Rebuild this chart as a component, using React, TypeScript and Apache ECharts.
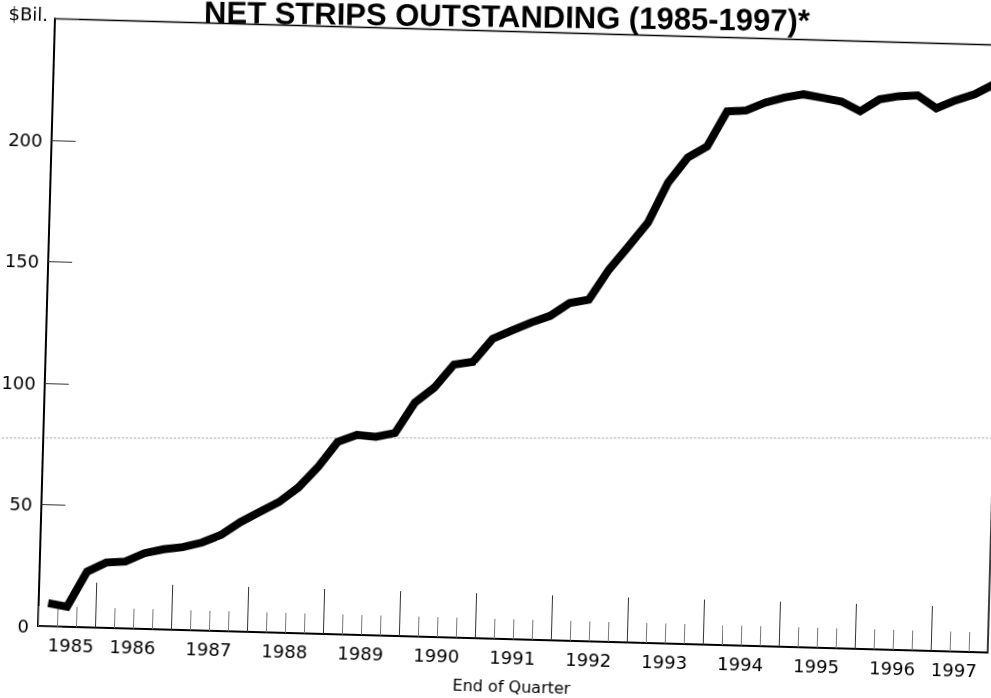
import React, { useEffect, useRef } from "react";
import * as echarts from "echarts";

// ---------- data ----------
const years = ["1985", "1986", "1987", "1988", "1989", "1990", "1991", "1992", "1993", "1994", "1995", "1996", "1997"];
// quarters shown: 1985 Q2 .. 1997 Q3
const firstQuarterOfYear = [2, 1, 1, 1, 1, 1, 1, 1, 1, 1, 1, 1, 1];
const lastQuarterOfYear = [4, 4, 4, 4, 4, 4, 4, 4, 4, 4, 4, 4, 3];
const categories: string[] = [];
years.forEach((y, i) => {
  for (let q = firstQuarterOfYear[i]; q <= lastQuarterOfYear[i]; q++) categories.push(y + " Q" + q);
});

// Net STRIPS outstanding, $ billions, end of quarter
const netStrips = [
  9.5, 8.3, 22.9, 26.9, 27.5, 31.2, 33.0, 34.1, 36.2, 39.6,
  45.1, 49.5, 53.8, 60.0, 68.6, 79.2, 82.3, 81.7, 83.5, 96.2,
  102.6, 112.3, 113.7, 123.4, 127.0, 130.5, 133.5, 139.0, 140.6, 153.0,
  162.9, 173.0, 189.7, 200.2, 205.0, 219.6, 220.2, 223.7, 226.0, 227.5,
  226.3, 225.0, 221.2, 226.3, 227.8, 228.4, 223.3, 226.8, 229.5, 233.8,
];

// year label positions, in quarters from the start of the axis
const yearLabelAt = [1.75, 5, 9, 13, 17, 21, 25, 29, 33, 37, 41, 45, 48.25];
const yTicks = { min: 0, max: 250, interval: 50 };

const titleText = "NET STRIPS OUTSTANDING (1985-1997)*";
const yUnit = "$Bil.";
const xName = "End of Quarter";

// ---------- layout (scan is tilted) ----------
const ANGLE_DEG = 1.6;
const TH = (ANGLE_DEG * Math.PI) / 180;
const DIV_LEFT = -40;
const DIV_TOP = -60;
const DIV_W = 1080;
const DIV_H = 760;
const ORIGIN_PAGE = [38, 626];
const ORIGIN_LOCAL = [ORIGIN_PAGE[0] - DIV_LEFT, ORIGIN_PAGE[1] - DIV_TOP];
const PLOT_W = 950;
const PLOT_H = 607.5;

function toLocal(px: number, py: number): [number, number] {
  const dx = px - ORIGIN_PAGE[0];
  const dy = py - ORIGIN_PAGE[1];
  const u = dx * Math.cos(TH) + dy * Math.sin(TH);
  const v = -dx * Math.sin(TH) + dy * Math.cos(TH);
  return [ORIGIN_LOCAL[0] + u, ORIGIN_LOCAL[1] + v];
}

const FONT = "'DejaVu Sans', sans-serif";

export default function App() {
  const ref = useRef<HTMLDivElement>(null);

  useEffect(() => {
    if (!ref.current) return;
    document.body.style.overflow = "hidden";
    const chart = echarts.init(ref.current, undefined, { renderer: "svg" });

    const labelMap: Record<string, string> = {};
    yearLabelAt.forEach((p, i) => {
      labelMap[p.toFixed(2)] = years[i];
    });

    const titlePos = toLocal(507, 16.5);
    const foldA = toLocal(-30, 438);
    const foldB = toLocal(1030, 438);

    chart.setOption({
      animation: false,
      backgroundColor: "#ffffff",
      grid: {
        left: ORIGIN_LOCAL[0],
        top: ORIGIN_LOCAL[1] - PLOT_H,
        right: DIV_W - ORIGIN_LOCAL[0] - PLOT_W,
        bottom: DIV_H - ORIGIN_LOCAL[1],
        show: true,
        borderColor: "#000",
        borderWidth: 1.5,
        backgroundColor: "transparent",
        containLabel: false,
        outerBoundsMode: "none",
      },
      xAxis: [
        {
          type: "category",
          position: "bottom",
          data: categories,
          boundaryGap: true,
          axisLine: { show: true, lineStyle: { color: "#000", width: 2 } },
          axisTick: { show: true, inside: true, length: 20, interval: 0, lineStyle: { color: "#777", width: 1 } },
          axisLabel: { show: false },
          splitLine: { show: false },
        },
        {
          type: "category",
          position: "bottom",
          data: categories,
          boundaryGap: true,
          axisLine: { show: false },
          axisTick: {
            show: true,
            inside: true,
            length: 45,
            interval: (index: number) => index % 4 === 3,
            lineStyle: { color: "#333", width: 1 },
          },
          axisLabel: { show: false },
          splitLine: { show: false },
        },
        {
          type: "value",
          position: "bottom",
          min: 0,
          max: categories.length,
          interval: 0.25,
          axisLine: { show: false },
          axisTick: { show: false },
          splitLine: { show: false },
          axisLabel: {
            show: true,
            margin: 9,
            fontSize: 18,
            fontFamily: FONT,
            color: "#000",
            formatter: (v: number) => labelMap[v.toFixed(2)] || "",
          },
          name: xName,
          nameLocation: "middle",
          nameGap: 39,
          nameTextStyle: { fontSize: 16, fontFamily: FONT, color: "#000" },
        },
      ],
      yAxis: {
        type: "value",
        min: yTicks.min,
        max: yTicks.max,
        interval: yTicks.interval,
        axisLine: { show: true, lineStyle: { color: "#000", width: 2 } },
        axisTick: { show: true, inside: true, length: 24, lineStyle: { color: "#333", width: 1 } },
        splitLine: { show: false },
        axisLabel: {
          margin: 9,
          fontSize: 18,
          fontFamily: FONT,
          color: "#000",
          formatter: (v: number) => (v === yTicks.max ? "" : String(v)),
        },
        name: yUnit,
        nameLocation: "end",
        nameGap: 4,
        nameTextStyle: {
          fontSize: 18,
          fontFamily: FONT,
          color: "#000",
          align: "right",
          verticalAlign: "middle",
          padding: [0, 7, 0, 0],
        },
      },
      graphic: [
        {
          type: "line",
          silent: true,
          shape: { x1: foldA[0], y1: foldA[1], x2: foldB[0], y2: foldB[1] },
          style: { stroke: "#999", lineWidth: 1, lineDash: [2, 2] },
          z: 0,
        },
        {
          type: "text",
          x: titlePos[0],
          y: titlePos[1],
          rotation: TH / 2,
          style: {
            text: titleText,
            font: "bold 31px 'Liberation Sans', Arial, sans-serif",
            fill: "#000",
            align: "center",
            verticalAlign: "middle",
          },
        },
      ],
      series: [
        {
          type: "line",
          xAxisIndex: 0,
          yAxisIndex: 0,
          data: netStrips,
          symbol: "none",
          lineStyle: { color: "#000", width: 8, join: "miter", miterLimit: 3 },
          z: 5,
        },
      ],
    });

    return () => chart.dispose();
  }, []);

  return (
    <div
      ref={ref}
      style={{
        position: "fixed",
        left: DIV_LEFT,
        top: DIV_TOP,
        width: DIV_W,
        height: DIV_H,
        transform: `rotate(${ANGLE_DEG}deg)`,
        transformOrigin: `${ORIGIN_LOCAL[0]}px ${ORIGIN_LOCAL[1]}px`,
        background: "#fff",
      }}
    />
  );
}
